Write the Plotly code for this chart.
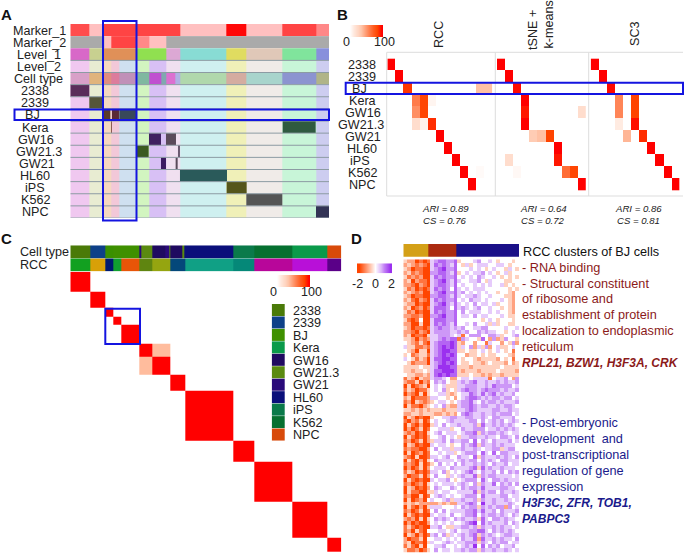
import plotly.graph_objects as go

W, H = 685, 553
FONT = "Liberation Sans"
HOT = [[0, "#ffffff"], [0.35, "#ffc4a8"], [0.6, "#ff8050"], [0.85, "#ff4400"], [1, "#ff0000"]]
DIV = [[0, "#ff4500"], [0.5, "#ffffff"], [1, "#9b30ef"]]
BLUE = "#1414e0"

# ---------- Panel A data ----------
a_row_labels = ["Marker_1", "Marker_2", "Level_1", "Level_2", "Cell type", "2338", "2339", "BJ", "Kera",
                "GW16", "GW21.3", "GW21", "HL60", "iPS", "K562", "NPC"]
a_marker1_edges = [0, 57, 99, 329, 469, 528, 637, 737, 776]
a_marker1_colors = ["#ff4d4d", "#ffc0c0", "#ff4444", "#ffc0c0", "#ff0808", "#ffc0c0", "#ff4444", "#ff8888"]
a_marker2_edges = [0, 103, 124, 199, 236, 287, 776]
a_marker2_colors = ["#aaaaaa", "#ffc0c0", "#ff4444", "#ff8888", "#ffc0c0", "#aaaaaa"]
a_level1_edges = [0, 57, 99, 199, 287, 329, 469, 528, 637, 737, 776]
a_level1_colors = ["#d868c8", "#c8d090", "#e09058", "#90e050", "#dca8d4", "#88dcd4", "#e0dc60",
                   "#e0c8b8", "#80e49c", "#8890dc"]
a_pastel_edges = [0, 57, 99, 124, 147, 199, 236, 287, 329, 469, 528, 637, 737, 776]
a_pastel_colors = ["#f0c8f0", "#e8ecd2", "#f5d8c0", "#f2c8d8", "#cfe0f0", "#d2f5c0", "#d8c0f5", "#f0e0f0",
                   "#cff0f0", "#f0f0b8", "#f0ebe8", "#c8f5d8", "#cdcdf0"]
a_celltype_edges = [0, 57, 99, 124, 147, 199, 236, 272, 287, 316, 329, 469, 528, 637, 737, 776]
a_celltype_colors = ["#d8a0c8", "#e0b47c", "#e08c80", "#dc7c9c", "#c090b8", "#80b8a0", "#c050d0", "#80a8b0",
                     "#dc70d0", "#b0b0e4", "#b0d8ac", "#d4aca0", "#a8d4cc", "#8c94d0", "#b0b488"]
a_member_rows = [5, 6, 7, 7, 7, 8, 8, 9, 9, 10, 10, 11, 11, 12, 13, 14, 15]
a_member_spans = [(0, 57), (57, 99), (99, 121), (125, 147), (147, 199), (122, 125), (637, 737), (236, 272),
                  (287, 316), (199, 236), (323, 329), (272, 287), (316, 323), (329, 469), (469, 528),
                  (528, 637), (737, 776)]
a_member_colors = ["#5a2d5a", "#55553a", "#5a3a2a", "#5a2a35", "#38485a", "#8a5a50", "#2f5a40", "#3f2060",
                   "#5a4a5a", "#3a5a20", "#6a5a70", "#3a1a60", "#5a4a5a", "#2a5a5a", "#55551a",
                   "#555555", "#333355"]

# ---------- Panel B data ----------
b_rows = ["2338", "2339", "BJ", "Kera", "GW16", "GW21.3", "GW21", "HL60", "iPS", "K562", "NPC"]
b_rcc = [[100, 0, 0, 0, 0, 0, 0, 0, 0, 0, 0, 0, 0],
         [0, 100, 0, 0, 0, 0, 0, 0, 0, 0, 0, 0, 0],
         [0, 0, 88, 0, 0, 0, 0, 0, 0, 0, 0, 36, 36],
         [0, 0, 0, 62, 84, 6, 0, 0, 0, 0, 0, 0, 0],
         [0, 0, 0, 55, 84, 0, 0, 0, 0, 0, 0, 0, 0],
         [0, 0, 0, 20, 8, 90, 0, 0, 0, 0, 0, 0, 0],
         [0, 0, 0, 0, 0, 0, 100, 0, 0, 0, 0, 0, 0],
         [0, 0, 0, 0, 0, 0, 0, 100, 0, 0, 0, 0, 0],
         [0, 0, 0, 0, 0, 0, 0, 0, 100, 0, 0, 0, 0],
         [0, 0, 0, 0, 0, 0, 0, 0, 0, 100, 0, 3, 0],
         [0, 0, 0, 0, 0, 0, 0, 0, 0, 0, 100, 0, 0]]
b_tsne = [[100, 0, 0, 0, 0, 0, 0, 0, 0, 0, 0],
          [0, 100, 0, 0, 0, 0, 0, 0, 0, 0, 0],
          [0, 0, 98, 0, 0, 0, 0, 0, 0, 0, 0],
          [0, 0, 0, 100, 0, 0, 0, 0, 0, 0, 0],
          [0, 0, 0, 95, 0, 0, 0, 0, 0, 0, 20],
          [0, 0, 0, 100, 0, 0, 0, 0, 0, 0, 0],
          [0, 0, 0, 0, 30, 36, 85, 0, 0, 0, 0],
          [0, 0, 0, 0, 0, 0, 0, 100, 0, 0, 0],
          [0, 20, 0, 0, 0, 0, 0, 95, 0, 0, 0],
          [0, 0, 4, 0, 0, 0, 0, 0, 68, 84, 0],
          [0, 0, 0, 0, 0, 0, 0, 0, 0, 0, 100]]
b_sc3 = [[100, 0, 0, 0, 0, 0, 0, 0, 0, 0, 0],
         [0, 100, 0, 0, 0, 0, 0, 0, 0, 0, 0],
         [0, 0, 98, 0, 0, 0, 0, 0, 0, 0, 0],
         [0, 0, 0, 58, 0, 85, 0, 0, 0, 0, 0],
         [0, 0, 0, 58, 0, 85, 0, 0, 0, 0, 0],
         [0, 0, 0, 12, 0, 97, 0, 0, 0, 0, 0],
         [0, 0, 0, 0, 40, 0, 90, 0, 0, 0, 0],
         [0, 0, 0, 0, 0, 0, 0, 100, 0, 0, 0],
         [0, 0, 0, 0, 0, 0, 0, 0, 100, 0, 0],
         [0, 0, 0, 0, 0, 0, 0, 0, 0, 100, 0],
         [0, 0, 0, 0, 0, 0, 0, 0, 0, 0, 100]]
b_ari = ["ARI = 0.89", "ARI = 0.64", "ARI = 0.86"]
b_cs = ["CS = 0.76", "CS = 0.72", "CS = 0.81"]
ramp_values = [0, 10, 20, 30, 40, 50, 60, 70, 80, 90, 100]

# ---------- Panel C data ----------
c_block_sizes = [59, 46, 25, 24, 54, 38, 54, 44, 146, 62, 114, 106, 41]
c_offdiag_pairs = [(5, 6), (6, 5)]
c_offdiag_value = 38
c_type_edges = [0, 59, 105, 130, 207, 212, 246, 284, 297, 301, 337, 343, 490, 552, 666, 771, 813]
c_type_colors = ["#4a7a08", "#0e4088", "#3a9000", "#3f9000", "#2a0a7a", "#5a8a10", "#1f0a60", "#2a0a7a",
                 "#5a8a10", "#1f0a60", "#5a8a10", "#0a0f7a", "#0a7a4a", "#067030", "#0a9a4a", "#d84a0a"]
c_rcc_edges = [0, 59, 105, 130, 154, 208, 246, 300, 344, 490, 552, 666, 771, 813]
c_rcc_colors = ["#12a020", "#d8a008", "#001a70", "#10a030", "#e85508", "#5f8510", "#95a510", "#04487a",
                "#10a085", "#058878", "#b8069a", "#b810d8", "#5a0088"]
c_legend_labels = ["2338", "2339", "BJ", "Kera", "GW16", "GW21.3", "GW21", "HL60", "iPS", "K562", "NPC"]
c_legend_colors = ["#4a7a08", "#0e4088", "#3f9000", "#0a9a4a", "#1f0a60", "#5a8a10", "#2a0a7a", "#0a0f7a",
                   "#0a7a4a", "#067030", "#d84a0a"]

# ---------- Panel D data (digit 0..8 reads as -2..2) ----------
d_strip_edges = [0, 25, 53, 116]
d_strip_colors = ["#d4a017", "#ab2a10", "#1a1088"]
d_ramp = [-2, -1.5, -1, -0.5, 0, 0.5, 1, 1.5, 2]
d_rows = """
3220101 5677667 34445644 54344434
2321210 5767657 43534555 44554344
3201100 5678667 44454543 45443543
2312100 6677657 34545564 54345344
3121200 5767667 45454654 45434343
2302110 5678657 54455643 54443344
2210210 5677657 45445454 54453434
3120101 5767647 54545554 44444343
2321200 5678667 56454545 44344324
3201100 6677657 54556544 54443324
2310210 5767667 45465545 44454324
3220100 5678657 54546455 45344324
2301201 5777647 56545644 54434324
3120100 5767667 46455544 54544324
2211200 6678667 45546455 44454334
3101400 5777667 44444434 54344434
2200300 5767657 44546445 35344334
3201101 5676656 56445566 44445445
2210210 5666655 65644656 55443454
2301103 5566654 51466644 66534456
3320212 5567677 16544374 26236443
4321310 5677787 32442441 54424362
5331121 5678787 35462536 24533454
4320330 5678877 33433454 34543414
3412331 5678787 44233434 33444324
5431320 5778877 43443233 33243414
4312220 5678787 43343323 43332423
3333433 5688877 33323333 33343333
3323343 5778887 32333233 33433332
4332232 5787877 33343323 23323333
1320322 5665422 45545555 14556426
2113021 4656433 56567556 55656556
0301230 4545333 55666556 57666645
1320113 4546343 56766567 66656556
0210303 4455323 45576575 67565564
2301112 5544342 45677656 56656645
1203212 3455434 56675465 66565556
0311023 4546322 56676566 55656654
3323232 3332333 55676555 56655655
2233233 3223232 46765565 56566645
0320100 3445566 55665565 46655564
1021301 4544565 55566464 56564565
0310200 3546455 65556375 56565654
0201301 4455534 46556664 55656565
2120103 4564555 45667365 66565455
0310102 4456454 35566556 55466546
1201302 3556465 56647465 46555645
0320100 5455434 46567365 56565554
1211002 4645535 56556545 56635664
0301201 4454553 45666475 47466555
2103001 5545644 65547365 55656546
0310203 4655554 56566465 65466555
1210301 3464546 46556565 46556455
0201302 4555465 55567375 65565554
1320101 5546345 45675465 56464656
2011302 4644354 56557365 66555545
0310100 5455643 45666475 46656555
1201203 4545554 56546365 57465646
0320102 4654465 46566575 55566554
0311003 3545544 55557365 66465565
1200301 4565454 45666475 55566455
0301204 5445635 56556365 56556545
2323222 2232322 55676485 56555654
0310203 5554445 46566365 65662645
1201301 4646455 55667575 56465556
0310100 5455464 45667465 66565465
2120303 4656546 56556375 46656554
0201002 4545454 45678475 65556465
1310100 5564335 56656365 56565545
1203104 4455456 45566775 46565654
0320201 5646354 56567365 65456655
2011304 4554545 46557275 56565546
2301103 5445654 55666365 46566455
1310304 4556445 45658474 65645564
3112013 4645545 56566365 56556545
""".split("\n")
d_text_red = ["- RNA binding", "- Structural constituent", "of ribosome and", "establishment of protein",
              "localization to endoplasmic", "reticulum"]
d_genes_red = "RPL21, BZW1, H3F3A, CRK"
d_text_blue = ["- Post-embryonic", "development  and", "post-transcriptional", "regulation of gene", "expression"]
d_genes_blue = ["H3F3C, ZFR, TOB1,", "PABPC3"]

# ---------- helpers ----------
fig = go.Figure()
layout = {}
shapes = []
annots = []
n_axes = [0]


def new_axes(x0, y0, x1, y1, xrange, yrange):
    n_axes[0] += 1
    i = n_axes[0]
    sfx = "" if i == 1 else str(i)
    base = dict(visible=False, showgrid=False, zeroline=False, fixedrange=True)
    layout["xaxis" + sfx] = dict(base, domain=[x0 / W, x1 / W], range=xrange, anchor="y" + sfx)
    layout["yaxis" + sfx] = dict(base, domain=[1 - y1 / H, 1 - y0 / H], range=yrange, anchor="x" + sfx)
    return "x" + sfx, "y" + sfx


def flat(c):
    return [[0, c], [1, c]]


def strip(ax, edges, colors, y0, y1, ygap=0):
    n = len(colors)
    scale = [[i / (n - 1), c] for i, c in enumerate(colors)] if n > 1 else flat(colors[0])
    fig.add_trace(go.Heatmap(x=edges, y=[y0, y1], z=[list(range(n))], zmin=0, zmax=max(n - 1, 1),
                             colorscale=scale, showscale=False, hoverinfo="skip",
                             xaxis=ax[0], yaxis=ax[1], ygap=ygap))


def text(px, py, s, size=12.6, color="#222222", anchor="center", angle=0, bold=False, italic=False):
    t = s
    if bold:
        t = "<b>" + t + "</b>"
    if italic:
        t = "<i>" + t + "</i>"
    annots.append(dict(x=px / W, y=1 - py / H, xref="paper", yref="paper", text=t, showarrow=False,
                       xanchor=anchor, yanchor="middle", textangle=angle,
                       font=dict(family=FONT, size=size, color=color)))


def box(x0, y0, x1, y1, color=BLUE, width=2):
    shapes.append(dict(type="rect", xref="paper", yref="paper", x0=x0 / W, x1=x1 / W, y0=1 - y0 / H, y1=1 - y1 / H,
                       line=dict(color=color, width=width), fillcolor="rgba(0,0,0,0)", layer="above"))


def hline(x0, x1, y, color="#dddddd", width=1):
    shapes.append(dict(type="line", xref="paper", yref="paper", x0=x0 / W, x1=x1 / W, y0=1 - y / H, y1=1 - y / H,
                       line=dict(color=color, width=width)))


def vline(x, y0, y1, color="#dddddd", width=1):
    shapes.append(dict(type="line", xref="paper", yref="paper", x0=x / W, x1=x / W, y0=1 - y0 / H, y1=1 - y1 / H,
                       line=dict(color=color, width=width)))


def ramp(x0, y0, x1, y1, values, scale, zmin, zmax):
    ax = new_axes(x0, y0, x1, y1, [-0.5, len(values) - 0.5], [-0.5, 0.5])
    fig.add_trace(go.Heatmap(z=[values], zmin=zmin, zmax=zmax, colorscale=scale, showscale=False,
                             hoverinfo="skip", zsmooth="best", xaxis=ax[0], yaxis=ax[1]))


# ---------- Panel A ----------
text(6, 15, "A", size=15, color="#111111", bold=True)
ax_a = new_axes(70.3, 24, 329, 218, [0, 776], [16, 0])
strip(ax_a, a_marker1_edges, a_marker1_colors, 0, 1)
strip(ax_a, a_marker2_edges, a_marker2_colors, 1, 2)
strip(ax_a, a_level1_edges, a_level1_colors, 2, 3)
strip(ax_a, a_pastel_edges, a_pastel_colors, 3, 4)
strip(ax_a, a_celltype_edges, a_celltype_colors, 4, 5)
strip(ax_a, a_pastel_edges, a_pastel_colors, 5, 16)
for r, sp, c in zip(a_member_rows, a_member_spans, a_member_colors):
    strip(ax_a, list(sp), [c], r, r + 1)
sep_x, sep_y = [], []
for r in range(3, 17):
    sep_x += [0, 776, None]
    sep_y += [r, r, None]
fig.add_trace(go.Scatter(x=sep_x, y=sep_y, mode="lines", line=dict(color="#8c9ba3", width=1),
                         hoverinfo="skip", showlegend=False, xaxis=ax_a[0], yaxis=ax_a[1]))
a_label_x = [39.5, 39.5, 39, 39, 38.5, 35, 35, 32.5, 35, 36, 39, 37, 35, 35, 35, 35]
for i, lab in enumerate(a_row_labels):
    text(a_label_x[i], 24 + 12.125 * (i + 0.5) + 0.5, lab)
box(103, 21, 136.5, 220.5)
box(14.5, 109.5, 329, 120)

# ---------- Panel B ----------
text(342, 15, "B", size=15, color="#111111", bold=True)
ramp(348, 25, 383, 37, ramp_values, HOT, 0, 100)
text(346, 41.5, "0", size=12.5)
text(384, 41.5, "100", size=12.5)
row_h = 12.03
b_y0, b_y1 = 58.4, 190.7
cell_w = 8.07
for data, x0 in ((b_rcc, 387.3), (b_tsne, 497), (b_sc3, 590.7)):
    nc = len(data[0])
    ax = new_axes(x0, b_y0, x0 + nc * cell_w, b_y1, [-0.5, nc - 0.5], [len(data) - 0.5, -0.5])
    fig.add_trace(go.Heatmap(z=data, zmin=0, zmax=100, colorscale=HOT, showscale=False, hoverinfo="skip",
                             xaxis=ax[0], yaxis=ax[1]))
b_label_x = [362, 362, 359, 362, 363, 361, 363, 362, 360, 362, 362]
for i, lab in enumerate(b_rows):
    text(b_label_x[i], b_y0 + row_h * (i + 0.5) + 0.5, lab)
hline(386.7, 683, 52.3)
hline(386.7, 683, 196)
for vx in (386.7, 495.3, 588.7):
    vline(vx, 52.3, 196)
text(439, 34, "RCC", angle=-90)
text(533, 30, "tSNE +", angle=-90)
text(548, 24.5, "k-means", angle=-90)
text(635, 34, "SC3", angle=-90)
for cx, a, c in zip((445, 543, 638), b_ari, b_cs):
    text(cx, 208.5, a, size=9.6, italic=True)
    text(cx, 220.5, c, size=9.6, italic=True)
box(345.7, 82.7, 683, 94)

# ---------- Panel C ----------
text(6, 238, "C", size=15, color="#111111", bold=True)
ax_c = new_axes(70.3, 245.3, 341.3, 271.3, [0, 813], [2, 0])
strip(ax_c, c_type_edges, c_type_colors, 0, 0.98)
strip(ax_c, c_rcc_edges, c_rcc_colors, 1.02, 2)
text(17.5, 252, "Cell type", anchor="left")
text(17.5, 265, "RCC", anchor="left")
c_edges = [0]
for s in c_block_sizes:
    c_edges.append(c_edges[-1] + s)
n_block = len(c_block_sizes)
c_z = [[100 if i == j else (c_offdiag_value if (i, j) in c_offdiag_pairs else 0) for j in range(n_block)]
       for i in range(n_block)]
ax_m = new_axes(70.3, 271.7, 341.3, 552, [0, 813], [813, 0])
fig.add_trace(go.Heatmap(x=c_edges, y=c_edges, z=c_z, zmin=0, zmax=100, colorscale=HOT, showscale=False,
                         hoverinfo="skip", xaxis=ax_m[0], yaxis=ax_m[1]))
ramp(275, 275, 310, 287, ramp_values, HOT, 0, 100)
text(273.5, 291.5, "0", size=12.5)
text(311, 291.5, "100", size=12.5)
n_leg = len(c_legend_labels)
ax_l = new_axes(271.7, 304, 285, 441, [0, 1], [n_leg, 0])
for i, c in enumerate(c_legend_colors):
    strip(ax_l, [0, 1], [c], i, i + 1, ygap=0)
for i, lab in enumerate(c_legend_labels):
    text(290.5, 304 + (i + 0.5) * 137 / n_leg + 0.5, lab, anchor="left")
box(105.3, 308.7, 140, 344)

# ---------- Panel D ----------
text(356, 238, "D", size=15, color="#111111", bold=True)
ax_d = new_axes(403.3, 244, 519, 256.7, [0, 116], [1, 0])
strip(ax_d, d_strip_edges, d_strip_colors, 0, 1)
d_z = [[(int(ch) - 4) / 2 for ch in row.replace(" ", "")] for row in d_rows if row.strip()]
ax_h = new_axes(403.3, 259.3, 519, 552.7, [-0.5, 29.5], [len(d_z) - 0.5, -0.5])
fig.add_trace(go.Heatmap(z=d_z, zmin=-2, zmax=2, colorscale=DIV, showscale=False, hoverinfo="skip",
                         xaxis=ax_h[0], yaxis=ax_h[1]))
ramp(357, 263.3, 392.3, 273.3, d_ramp, DIV, -2, 2)
text(357, 283.5, "-2", size=12.5)
text(375, 283.5, "0", size=12.5)
text(392, 283.5, "2", size=12.5)
DRED, DBLUE = "#8b1a1a", "#1a1a8c"
TXT = 12.7
BTXT = 12
text(520.5, 252, "RCC clusters of BJ cells", size=TXT, color="#111111", anchor="left")
for i, s in enumerate(d_text_red):
    text(520, 267.7 + 15.8 * i, s, size=TXT, color=DRED, anchor="left")
text(520, 362.7, d_genes_red, size=BTXT, color=DRED, anchor="left", bold=True, italic=True)
for i, s in enumerate(d_text_blue):
    text(520, 422.7 + 16 * i, s, size=TXT, color=DBLUE, anchor="left")
for i, s in enumerate(d_genes_blue):
    text(520, 502.7 + 15.8 * i, s, size=BTXT, color=DBLUE, anchor="left", bold=True, italic=True)

fig.update_layout(width=W, height=H, margin=dict(l=0, r=0, t=0, b=0), paper_bgcolor="white",
                  plot_bgcolor="rgba(0,0,0,0)", showlegend=False, shapes=shapes, annotations=annots, **layout)
fig.write_html("out.html", config={"displayModeBar": False},
               post_script="document.body.style.margin='0';")
